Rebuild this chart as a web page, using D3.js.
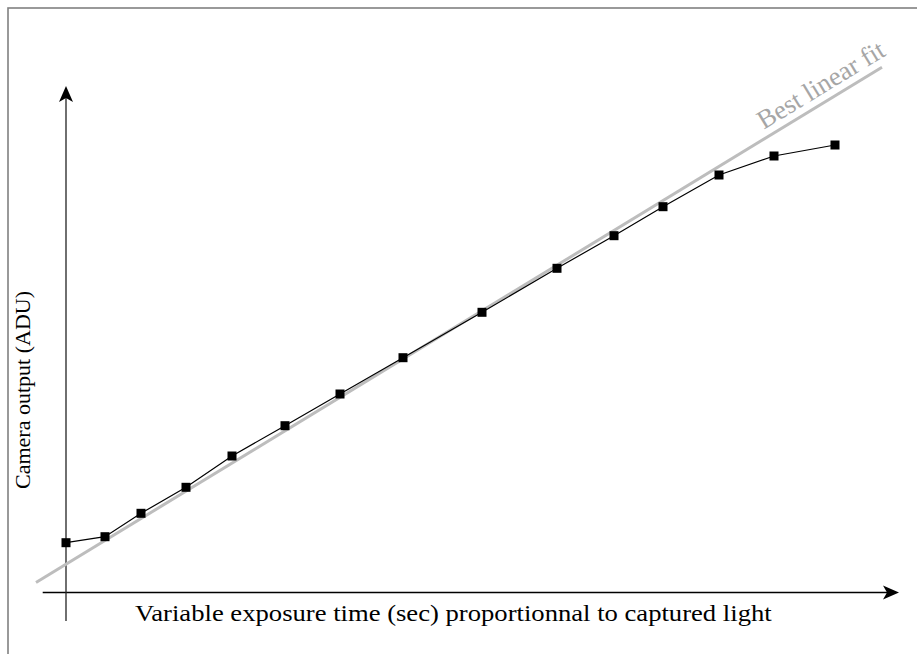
<!DOCTYPE html>
<html>
<head>
<meta charset="utf-8">
<script src="https://cdn.jsdelivr.net/npm/d3@7"></script>
</head>
<body style="margin:0">
<svg id="chart" width="917" height="654"></svg>
<script>
// ---- data (arbitrary units) ----
const exposure = [0, 3.9, 7.5, 12.0, 16.6, 21.9, 27.4, 33.7, 41.6, 49.1, 54.8, 59.7, 65.3, 70.8, 76.9];
const adu      = [4.98, 5.58, 7.92, 10.52, 13.65, 16.68, 19.85, 23.48, 28.02, 32.42, 35.68, 38.58, 41.75, 43.65, 44.75];
const fitIntercept = 2.83;
const fitSlope = 0.609;
const fitRange = [-3.0, 81.6];
const xLabel = "Variable exposure time (sec) proportionnal to captured light";
const yLabel = "Camera output (ADU)";
const fitLabel = "Best linear fit";

const svg = d3.select("#chart");
const x = d3.scaleLinear().domain([0, 80]).range([66, 866]);
const y = d3.scaleLinear().domain([0, 50]).range([592.5, 92.5]);

// texts
const gx = svg.append("g").attr("transform", "translate(135,621) scale(1.11,1)");
gx.append("text").attr("x", 0).attr("y", 0)
  .style("font-family", '"Liberation Serif", monospace')
  .attr("font-size", 24).attr("fill", "#000")
  .text(xLabel);

const gy = svg.append("g").attr("transform", "translate(30,390) rotate(-90)");
gy.append("text").attr("x", 0).attr("y", 0)
  .attr("text-anchor", "middle")
  .style("font-family", '"Liberation Serif", monospace')
  .attr("font-size", 22).attr("fill", "#000")
  .text(yLabel);

const fitPts = fitRange.map(t => [t, fitIntercept + fitSlope * t]);
const lx = 70.2, ly = fitIntercept + fitSlope * lx;
const ang = Math.atan2(y(fitPts[1][1]) - y(fitPts[0][1]), x(fitPts[1][0]) - x(fitPts[0][0])) * 180 / Math.PI;
const gf = svg.append("g").attr("transform", `translate(${x(lx)},${y(ly)}) rotate(${ang})`);
gf.append("text").attr("x", 0).attr("y", -8)
  .style("font-family", '"Liberation Serif", monospace')
  .attr("font-size", 26.5).attr("fill", "#a6a6a6")
  .text(fitLabel);

// frame
svg.append("rect").attr("x", 8).attr("y", 8).attr("width", 940).attr("height", 700)
  .attr("fill", "none").attr("stroke", "#808080").attr("stroke-width", 1.6);

// arrow heads drawn as paths at axis ends
function arrowHead(tx, ty, angleDeg) {
  svg.append("path")
    .attr("transform", `translate(${tx},${ty}) rotate(${angleDeg})`)
    .attr("d", "M0,0 L-16,-7 L-12,0 L-16,7 Z").attr("fill", "#000");
}

// axes
const x0 = x.invert(42.7), x1 = x.invert(899);
const yBottom = y.invert(621), yTop = y.invert(86);
svg.append("line").attr("x1", x(x0)).attr("x2", x(x1) - 8).attr("y1", y(0)).attr("y2", y(0))
  .attr("stroke", "#000").attr("stroke-width", 1.3);
arrowHead(x(x1), y(0), 0);
svg.append("line").attr("x1", x(0)).attr("x2", x(0)).attr("y1", y(yBottom)).attr("y2", y(yTop) + 8)
  .attr("stroke", "#222").attr("stroke-width", 1.3);
arrowHead(x(0), y(yTop), -90);

// best fit line
svg.append("line")
  .attr("x1", x(fitPts[0][0])).attr("y1", y(fitPts[0][1]))
  .attr("x2", x(fitPts[1][0])).attr("y2", y(fitPts[1][1]))
  .attr("stroke", "#bdbdbd").attr("stroke-width", 3);

// data line
const data = exposure.map((e, i) => [e, adu[i]]);
svg.append("path").datum(data)
  .attr("d", d3.line().x(d => x(d[0])).y(d => y(d[1])))
  .attr("fill", "none").attr("stroke", "#000").attr("stroke-width", 1.2);

svg.selectAll("rect.pt").data(data).join("rect").attr("class", "pt")
  .attr("x", d => x(d[0]) - 4.5).attr("y", d => y(d[1]) - 4.5)
  .attr("width", 9).attr("height", 9).attr("fill", "#000");
</script>
</body>
</html>
